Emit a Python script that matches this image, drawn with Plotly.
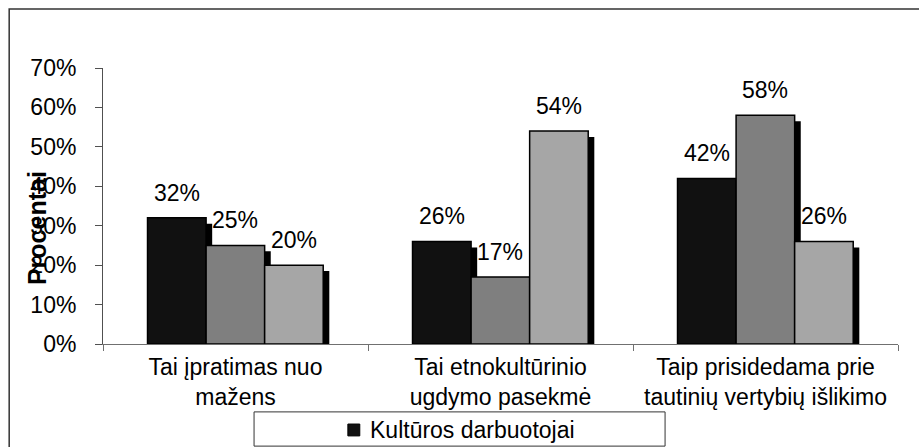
import plotly.graph_objects as go

categories = ["Tai įpratimas nuo<br>mažens",
              "Tai etnokultūrinio<br>ugdymo pasekmė",
              "Taip prisidedama prie<br>tautinių vertybių išlikimo"]
series_names = ["Kultūros darbuotojai", "Series 2", "Series 3"]
series_values = [
    [0.32, 0.26, 0.42],
    [0.25, 0.17, 0.58],
    [0.20, 0.54, 0.26],
]
value_labels = [
    ["32%", "26%", "42%"],
    ["25%", "17%", "58%"],
    ["20%", "54%", "26%"],
]
y_ticks = [0, 0.1, 0.2, 0.3, 0.4, 0.5, 0.6, 0.7]
y_tick_labels = ["0%", "10%", "20%", "30%", "40%", "50%", "60%", "70%"]
legend_label = "Kultūros darbuotojai"
axis_title = "Procentai"

colors = ["#111111", "#7f7f7f", "#a6a6a6"]
offsets = [-0.332, -0.111, 0.110]
bar_w = 0.221
shadow_dx = 0.023
shadow_dy = 0.015
FONT = "Arial, Liberation Sans, sans-serif"
FS = 23

fig = go.Figure()
for i in range(3):
    # shadow
    fig.add_trace(go.Bar(
        x=categories, y=series_values[i], base=[-shadow_dy] * 3,
        offset=offsets[i] + shadow_dx, width=bar_w,
        marker=dict(color="#000000", line=dict(width=0)),
        showlegend=False, hoverinfo="skip"))
    fig.add_trace(go.Bar(
        x=categories, y=series_values[i], name=series_names[i],
        offset=offsets[i], width=bar_w,
        marker=dict(color=colors[i], line=dict(color="#000000", width=1.5)),
        showlegend=False))

annotations = []
for i in range(3):
    for j in range(3):
        annotations.append(dict(
            x=j + offsets[i] + bar_w / 2, y=series_values[i][j],
            xref="x", yref="y", text=value_labels[i][j], showarrow=False,
            xanchor="center", yanchor="bottom", yshift=10,
            font=dict(family=FONT, size=FS, color="#000000")))
annotations.append(dict(
    x=-0.083, y=0.42, xref="paper", yref="paper", text="<b>" + axis_title + "</b>",
    showarrow=False, textangle=-90, xanchor="center", yanchor="middle",
    font=dict(family=FONT, size=25, color="#000000")))
# legend text
annotations.append(dict(
    x=0.333, y=-0.312, xref="paper", yref="paper", text=legend_label,
    showarrow=False, xanchor="left", yanchor="middle",
    font=dict(family=FONT, size=FS, color="#000000")))

shapes = [
    dict(type="rect", xref="paper", yref="paper",
         x0=-0.118, y0=-0.40, x1=1.05, y1=1.214,
         line=dict(color="#333333", width=1.5), fillcolor="rgba(0,0,0,0)", layer="below"),
    dict(type="rect", xref="paper", yref="paper",
         x0=0.190, y0=-0.370, x1=0.707, y1=-0.246,
         line=dict(color="#333333", width=1), fillcolor="rgba(0,0,0,0)"),
    # legend swatch
    dict(type="rect", xref="paper", yref="paper",
         x0=0.308, y0=-0.333, x1=0.323, y1=-0.290,
         line=dict(color="#000000", width=1), fillcolor=colors[0]),
]

fig.update_layout(
    width=919, height=447,
    margin=dict(l=103, r=21, t=68, b=103, autoexpand=False),
    paper_bgcolor="white", plot_bgcolor="white",
    barmode="overlay", showlegend=False,
    font=dict(family=FONT, size=FS, color="#000000"),
    annotations=annotations, shapes=shapes,
    xaxis=dict(type="category", tickson="boundaries", ticks="outside", ticklen=6,
               tickcolor="#707070", showline=True, linecolor="#707070", linewidth=1,
               showgrid=False, tickfont=dict(family=FONT, size=FS, color="#000000"),
               ticklabelstandoff=2, automargin=False),
    yaxis=dict(range=[0, 0.7], tickvals=y_ticks, ticktext=y_tick_labels,
               ticks="outside", ticklen=7, tickcolor="#505050", showline=True,
               linecolor="#505050", linewidth=1, showgrid=False, zeroline=False,
               tickfont=dict(family=FONT, size=FS, color="#000000"),
               ticklabelstandoff=14, automargin=False),
)

fig.write_html("out.html",
               config={"displayModeBar": False},
               post_script="document.body.style.margin='0';document.body.style.overflow='hidden';")
